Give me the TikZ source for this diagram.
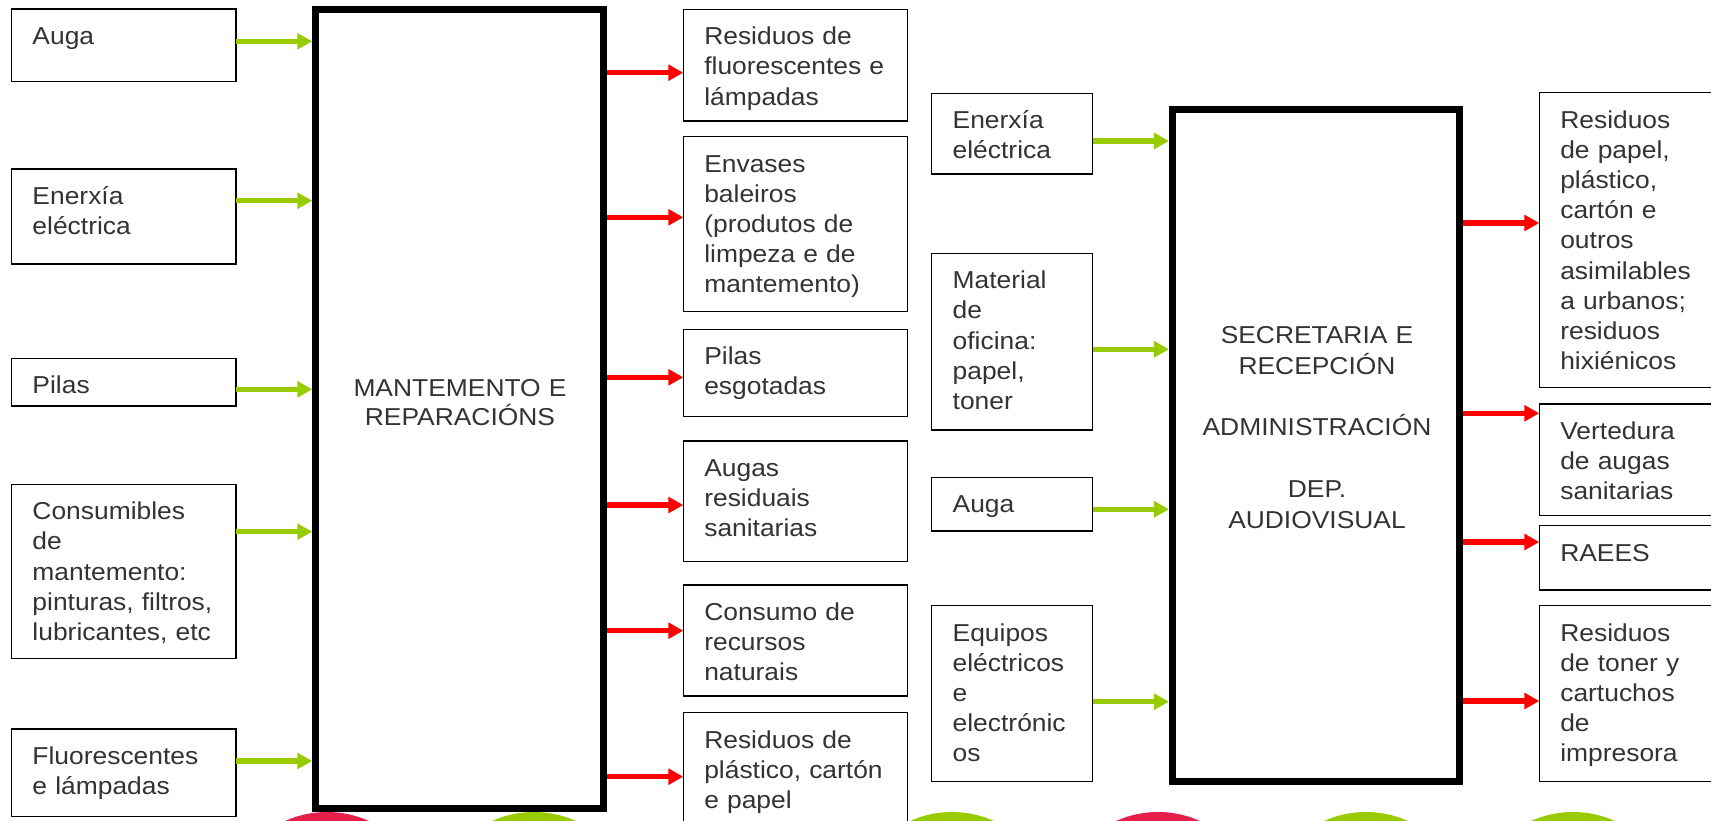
\documentclass[tikz,border=0pt]{standalone}
\usepackage{fontspec}
\setmainfont{Liberation Sans}[FakeStretch=1.08]
\usetikzlibrary{arrows.meta}
\newlength\pxu
\setlength\pxu{0.45pt}
\definecolor{txt}{RGB}{51,51,51}
\definecolor{ingreen}{RGB}{153,204,0}
\definecolor{outred}{RGB}{255,0,0}
\definecolor{dotred}{RGB}{230,30,75}
\newcommand\flowbox[6]{%
  \node[sbox, minimum width={(#4-#2)*\pxu}, minimum height={(#5-#3)*\pxu}] (#1) at (#2,#3) {};
  \node[stext] (#1t) at ([xshift=9.45pt,yshift=-15.9pt]#1.north west) {#6};
}
\begin{document}
\begin{tikzpicture}[x=0.45pt, y=-0.45pt,
  sbox/.style={draw=black, line width=0.6pt, rectangle, anchor=north west, inner sep=0pt, outer sep=0pt},
  stext/.style={anchor=base west, inner sep=0pt, outer sep=0pt, text width=90pt, align=left, text=txt, font=\fontsize{11}{13.6}\selectfont},
  mainbox/.style={draw=black, line width=3.15pt, rectangle, inner sep=0pt},
  maintext/.style={anchor=base, inner sep=0pt, outer sep=0pt, align=center, text=txt},
  inarrow/.style={draw=ingreen, line width=2.39pt, -{Triangle[length=6.75pt,width=7.07pt]}},
  outarrow/.style={draw=outred, line width=2.39pt, -{Triangle[length=6.75pt,width=7.07pt]}}]
\useasboundingbox (0,0) rectangle (1711,820);
\fill[white] (0,0) rectangle (1711,820);
\clip (0,0) rectangle (1711,820);

% decorative circles at the bottom
\fill[dotred]  (327,914)  circle[radius=102];
\fill[ingreen] (534,914)  circle[radius=102];
\fill[ingreen] (952,914)  circle[radius=102];
\fill[dotred]  (1158,914) circle[radius=102];
\fill[ingreen] (1366,914) circle[radius=102];
\fill[ingreen] (1573,914) circle[radius=102];

% main boxes
\node[mainbox, minimum width=129.4pt, minimum height=359.8pt] (m1) at (459.55,409) {};
\node[maintext, text width=117pt, font=\fontsize{11}{13.1}\selectfont] (m1t) at (460,396) {MANTEMENTO E\\REPARACIÓNS};

\node[mainbox, minimum width=129.2pt, minimum height=302.1pt] (m2) at (1316,445.65) {};
\node[maintext, text width=121.5pt, font=\fontsize{11}{13.86}\selectfont] (m2t) at (1317,343.3) {SECRETARIA E\\RECEPCIÓN\\[13.86pt]ADMINISTRACIÓN\\[13.86pt]DEP.\\AUDIOVISUAL};

% left inputs
\flowbox{L1}{11.5}{9}{236}{81.7}{Auga}
\flowbox{L2}{11.5}{169}{236}{264}{Enerxía\\eléctrica}
\flowbox{L3}{11.5}{358.3}{236}{406}{Pilas}
\flowbox{L4}{11.5}{484.3}{236}{658.3}{Consumibles\\de\\mantemento:\\pinturas, filtros,\\lubricantes, etc}
\flowbox{L5}{11.5}{729}{236}{816.7}{Fluorescentes\\e lámpadas}

% middle outputs
\flowbox{M1}{683.3}{9.3}{907.3}{121}{Residuos de\\fluorescentes e\\lámpadas}
\flowbox{M2}{683.3}{136.7}{907.3}{311.5}{Envases\\baleiros\\(produtos de\\limpeza e de\\mantemento)}
\flowbox{M3}{683.3}{329.3}{907.3}{416.7}{Pilas\\esgotadas}
\flowbox{M4}{683.3}{441}{907.3}{561.7}{Augas\\residuais\\sanitarias}
\flowbox{M5}{683.3}{585}{907.3}{696}{Consumo de\\recursos\\naturais}
\flowbox{M6}{683.3}{712.7}{907.3}{835}{Residuos de\\plástico, cartón\\e papel}

% right inputs
\flowbox{R1}{931.7}{93.3}{1092.5}{174}{Enerxía\\eléctrica}
\flowbox{R2}{931.7}{253.3}{1092.5}{430}{Material\\de\\oficina:\\papel,\\toner}
\flowbox{R3}{931.7}{477.3}{1092.5}{531}{Auga}
\flowbox{R4}{931.7}{605.7}{1092.5}{781.7}{Equipos\\eléctricos\\e\\electrónic\\os}

% right outputs
\flowbox{O1}{1539.3}{92.7}{1725}{387.5}{Residuos\\de papel,\\plástico,\\cartón e\\outros\\asimilables\\a urbanos;\\residuos\\hixiénicos}
\flowbox{O2}{1539.3}{404}{1725}{515.7}{Vertedura\\de augas\\sanitarias}
\flowbox{O3}{1539.3}{525.7}{1725}{590}{RAEES}
\flowbox{O4}{1539.3}{605.7}{1725}{781.7}{Residuos\\de toner y\\cartuchos\\de\\impresora}

% arrows into maintenance
\draw[inarrow] (L1.east |- 0,41.3)  -- (m1.west |- 0,41.3);
\draw[inarrow] (L2.east |- 0,200.7) -- (m1.west |- 0,200.7);
\draw[inarrow] (L3.east |- 0,389.3) -- (m1.west |- 0,389.3);
\draw[inarrow] (L4.east |- 0,531.7) -- (m1.west |- 0,531.7);
\draw[inarrow] (L5.east |- 0,761)   -- (m1.west |- 0,761);

% arrows out of maintenance
\draw[outarrow] (m1.east |- 0,72.7)  -- (M1.west |- 0,72.7);
\draw[outarrow] (m1.east |- 0,217.3) -- (M2.west |- 0,217.3);
\draw[outarrow] (m1.east |- 0,377.3) -- (M3.west |- 0,377.3);
\draw[outarrow] (m1.east |- 0,505)   -- (M4.west |- 0,505);
\draw[outarrow] (m1.east |- 0,630.7) -- (M5.west |- 0,630.7);
\draw[outarrow] (m1.east |- 0,776.7) -- (M6.west |- 0,776.7);

% arrows into secretaria
\draw[inarrow] (R1.east |- 0,141)   -- (m2.west |- 0,141);
\draw[inarrow] (R2.east |- 0,349.3) -- (m2.west |- 0,349.3);
\draw[inarrow] (R3.east |- 0,509.3) -- (m2.west |- 0,509.3);
\draw[inarrow] (R4.east |- 0,701.7) -- (m2.west |- 0,701.7);

% arrows out of secretaria
\draw[outarrow] (m2.east |- 0,223)   -- (O1.west |- 0,223);
\draw[outarrow] (m2.east |- 0,413.3) -- (O2.west |- 0,413.3);
\draw[outarrow] (m2.east |- 0,542)   -- (O3.west |- 0,542);
\draw[outarrow] (m2.east |- 0,701)   -- (O4.west |- 0,701);
\end{tikzpicture}
\end{document}
